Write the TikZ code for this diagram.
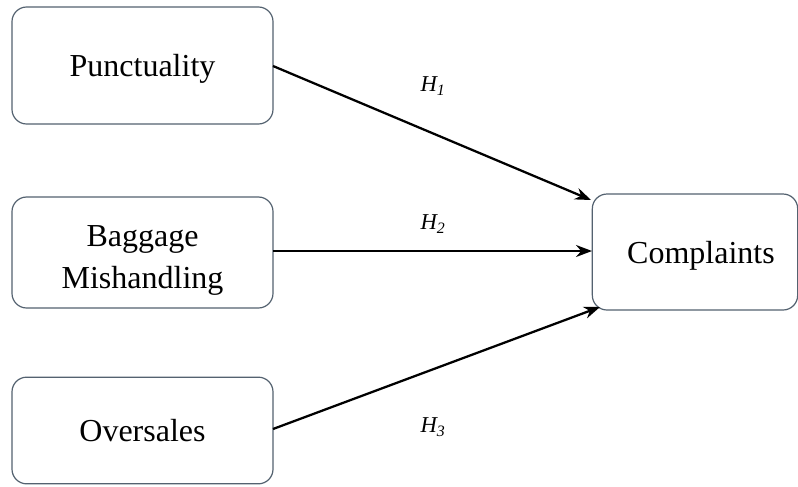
\documentclass[tikz,border=0pt]{standalone}
\usepackage{fontspec}
\setmainfont{Liberation Serif}
\usetikzlibrary{arrows.meta}
\definecolor{boxline}{RGB}{84,98,112}
\newcommand{\lowerby}[2]{\raisebox{-#1}[\height][\depth]{#2}}
\begin{document}
\begin{tikzpicture}[x=0.75pt,y=-0.75pt,
  box/.style={draw=boxline, line width=0.9pt, rounded corners=11pt, fill=white, font=\fontsize{24}{31.5}\selectfont, align=center, inner sep=0pt},
  conn/.style={line width=1.7pt, -{Stealth[length=12pt,width=9pt]}},
  hlab/.style={font=\fontsize{17}{20}\selectfont\itshape}]
\useasboundingbox (0,0) rectangle (798,486);
\fill[white] (0,0) rectangle (798,486);
\node[box, minimum width=195.75pt, minimum height=87.75pt] (p) at (142.5,65.5) {\lowerby{2.5pt}{Punctuality}};
\node[box, minimum width=195.75pt, minimum height=83.25pt] (b) at (142.5,252.5) {\lowerby{5pt}{\begin{tabular}{@{}c@{}}Baggage\\Mishandling\end{tabular}}};
\node[box, minimum width=195.75pt, minimum height=80pt] (o) at (142.5,430.5) {Oversales};
\node[box, minimum width=154pt, minimum height=87pt] (c) at (695,252) {\lowerby{3pt}{\hspace*{9pt}Complaints}};
\coordinate (t1) at (591,200);
\coordinate (t2) at (592,251);
\coordinate (t3) at (600,307);
\coordinate (s1) at (273,66);
\coordinate (s2) at (273,251);
\coordinate (s3) at (273,429);
\draw[conn] (s1) -- (t1);
\draw[conn] (s2) -- (t2);
\draw[conn] (s3) -- (t3);
\node[hlab] (h1) at (433,86) {H\textsubscript{1}};
\node[hlab] (h2) at (433,224) {H\textsubscript{2}};
\node[hlab] (h3) at (433,427) {H\textsubscript{3}};
\end{tikzpicture}
\end{document}
